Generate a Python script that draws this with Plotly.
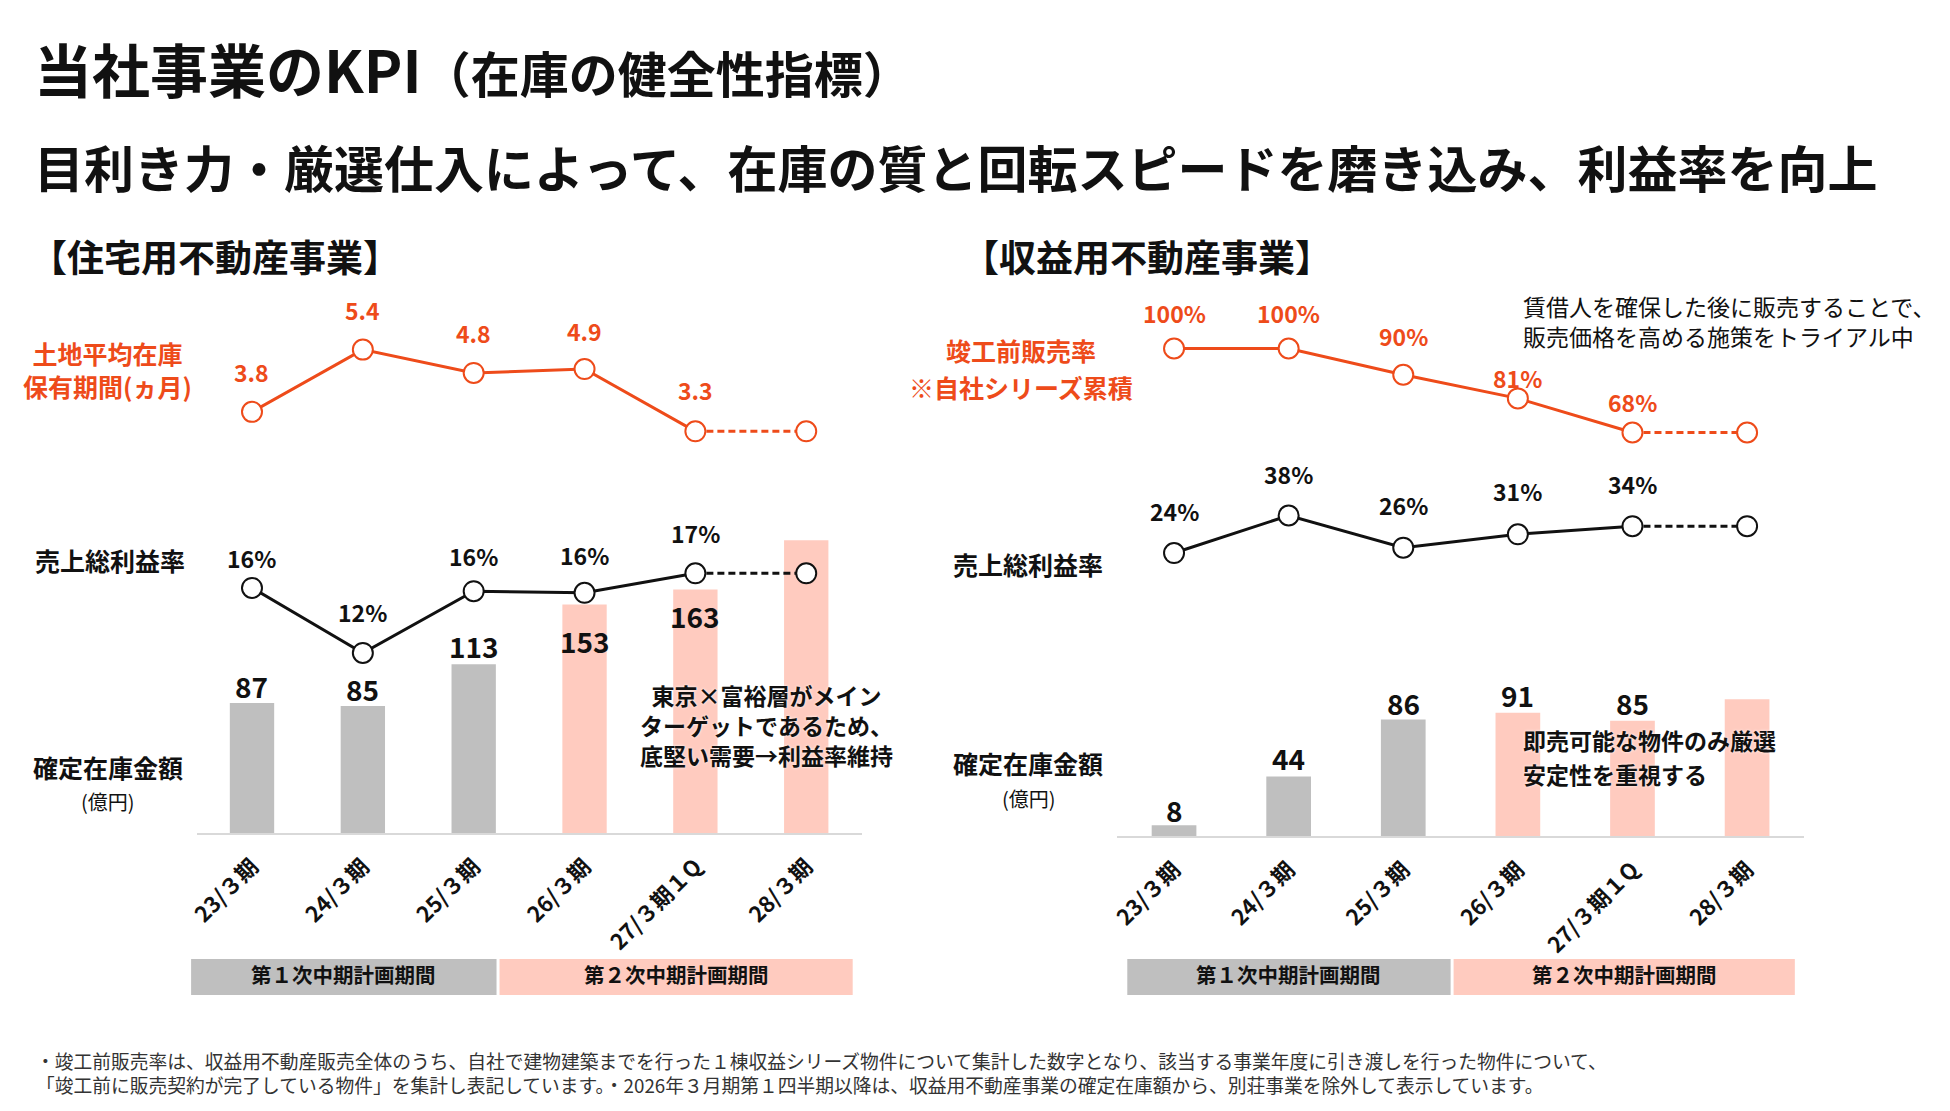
import plotly.graph_objects as go

W, H = 1950, 1111
FONT = "Noto Sans CJK JP"
ORANGE = "#EE4B1A"
GRAY = "#BFBFBF"
PINK = "#FFCBBF"
BLACK = "#111111"

# ---------------- data ----------------
categories = ["23/３期", "24/３期", "25/３期", "26/３期", "27/３期１Q", "28/３期"]
plan_period = [1, 1, 1, 2, 2, 2]

# 住宅用不動産事業
res_inventory = [87, 85, 113, 153, 163, 196]          # 確定在庫金額(億円)
res_inventory_labels = ["87", "85", "113", "153", "163", ""]
res_margin = [16.2, 12.2, 16.0, 15.9, 17.1, 17.1]     # 売上総利益率(%)
res_margin_labels = ["16%", "12%", "16%", "16%", "17%", ""]
res_land = [3.8, 5.4, 4.8, 4.9, 3.3, 3.3]             # 土地平均在庫保有期間(ヵ月)
res_land_labels = ["3.8", "5.4", "4.8", "4.9", "3.3", ""]

# 収益用不動産事業
inc_inventory = [8, 44, 86, 91, 85, 101]              # 確定在庫金額(億円)
inc_inventory_labels = ["8", "44", "86", "91", "85", ""]
inc_margin = [24, 38, 26, 31, 34, 34]                 # 売上総利益率(%)
inc_margin_labels = ["24%", "38%", "26%", "31%", "34%", ""]
inc_presale = [100, 100, 90, 81, 68, 68]              # 竣工前販売率(%)
inc_presale_labels = ["100%", "100%", "90%", "81%", "68%", ""]

band_labels = ["第１次中期計画期間", "第２次中期計画期間"]

# ---------------- style (label offsets in px) ----------------
res_inv_shift = [17, 17, 18, -37, -27, 0]
res_mar_shift = [30, 41, 35, 38, 40, 0]
res_land_shift = [40, 40, 40, 38, 41, 0]
inc_inv_shift = [15, 18, 16, 18, 18, 0]
inc_mar_shift = [42, 42, 43, 43, 42, 0]
inc_pre_shift = [36, 36, 39, 20, 31, 0]

OX, OY = 16, 9   # page offset compensation


def px(x):
    return (x - OX) / W


def py(y):
    return 1 - (y - OY) / H


bar_colors = [GRAY if p == 1 else PINK for p in plan_period]

fig = go.Figure()


def add_line(xa, ya, values, color):
    fig.add_trace(go.Scatter(x=categories[4:], y=values[4:], xaxis=xa, yaxis=ya,
                             mode="lines", line=dict(color=color, width=3, dash="7px,4px"),
                             hoverinfo="skip"))
    fig.add_trace(go.Scatter(x=categories[:5], y=values[:5], xaxis=xa, yaxis=ya,
                             mode="lines", line=dict(color=color, width=3),
                             hoverinfo="skip"))
    fig.add_trace(go.Scatter(x=categories, y=values, xaxis=xa, yaxis=ya,
                             mode="markers",
                             marker=dict(size=20, color="white", line=dict(color=color, width=2)),
                             hoverinfo="skip"))


# left panel
fig.add_trace(go.Bar(x=categories, y=res_inventory, xaxis="x", yaxis="y",
                     marker=dict(color=bar_colors, line=dict(width=0)), width=0.4,
                     hoverinfo="skip"))
add_line("x", "y2", res_margin, BLACK)
add_line("x", "y3", res_land, ORANGE)

# right panel
fig.add_trace(go.Bar(x=categories, y=inc_inventory, xaxis="x2", yaxis="y4",
                     marker=dict(color=bar_colors, line=dict(width=0)), width=0.39,
                     hoverinfo="skip"))
add_line("x2", "y5", inc_margin, BLACK)
add_line("x2", "y6", inc_presale, ORANGE)

annotations = []


def value_labels(xref, yref, values, labels, shifts, size, color, weight):
    for c, v, t, s in zip(categories, values, labels, shifts):
        if not t:
            continue
        annotations.append(dict(x=c, y=v, xref=xref, yref=yref, text=t, showarrow=False,
                                yanchor="middle", xanchor="center", yshift=s,
                                font=dict(size=size, color=color, family=FONT, weight=weight)))


value_labels("x", "y", res_inventory, res_inventory_labels, res_inv_shift, 28, BLACK, 700)
value_labels("x", "y2", res_margin, res_margin_labels, res_mar_shift, 23, BLACK, 700)
value_labels("x", "y3", res_land, res_land_labels, res_land_shift, 23, ORANGE, 700)
value_labels("x2", "y4", inc_inventory, inc_inventory_labels, inc_inv_shift, 28, BLACK, 700)
value_labels("x2", "y5", inc_margin, inc_margin_labels, inc_mar_shift, 23, BLACK, 700)
value_labels("x2", "y6", inc_presale, inc_presale_labels, inc_pre_shift, 23, ORANGE, 700)


def text(x, y, t, size, color=BLACK, weight=700, xanchor="center", shadow=None):
    f = dict(size=size, color=color, family=FONT, weight=weight)
    if shadow:
        f["shadow"] = shadow
    annotations.append(dict(x=px(x), y=py(y - 3), xref="paper", yref="paper", text=t,
                            showarrow=False, xanchor=xanchor, yanchor="middle",
                            align=xanchor if xanchor != "center" else "center", font=f))


# titles
text(30, 71.5, "当社事業のKPI<span style='font-size:49px'>（在庫の健全性指標）</span>", 58, xanchor="left")
text(30, 170, "目利き力・厳選仕入によって、在庫の質と回転スピードを磨き込み、利益率を向上", 50, xanchor="left")
text(26, 260, "【住宅用不動産事業】", 37, xanchor="left")
text(963, 260, "【収益用不動産事業】", 37, xanchor="left")

# row labels (left)
text(106, 373.5, "土地平均在庫<br>保有期間(ヵ月)", 25, ORANGE)
text(108, 564, "売上総利益率", 25)
text(106, 771, "確定在庫金額", 25)
text(106, 805, "(億円)", 20, weight=400)
# row labels (right)
text(1024, 354, "竣工前販売率", 25, ORANGE)
text(1024, 391, "※自社シリーズ累積", 25, ORANGE)
text(1031, 568, "売上総利益率", 25)
text(1031, 767, "確定在庫金額", 25)
text(1032, 802, "(億円)", 20, weight=400)

# comments
halo = "0px 0px 3px white"
text(768, 729, "東京×富裕層がメイン<br>ターゲットであるため、<br>底堅い需要→利益率維持", 23, shadow=halo)
text(1527, 324.5, "賃借人を確保した後に販売することで、<br>販売価格を高める施策をトライアル中", 23,
     xanchor="left", weight=400)
text(1527, 744, "即売可能な物件のみ厳選", 23, xanchor="left", shadow=halo)
text(1527, 778, "安定性を重視する", 23, xanchor="left", shadow=halo)

# plan period bands
shapes = []
bands = [
    (190, 497, GRAY, band_labels[0]),
    (500, 855, PINK, band_labels[1]),
    (1131, 1456, GRAY, band_labels[0]),
    (1459, 1802, PINK, band_labels[1]),
]
for x0, x1, col, lab in bands:
    shapes.append(dict(type="rect", xref="paper", yref="paper", x0=px(x0), x1=px(x1),
                       y0=py(996), y1=py(960), fillcolor=col, line=dict(width=0), layer="below"))
    text((x0 + x1) / 2, 978, lab, 20.5, weight=700)

# footnotes
text(32, 1076.5,
     "・竣工前販売率は、収益用不動産販売全体のうち、自社で建物建築までを行った１棟収益シリーズ物件について集計した数字となり、該当する事業年度に引き渡しを行った物件について、"
     "<br>「竣工前に販売契約が完了している物件」を集計し表記しています。・2026年３月期第１四半期以降は、収益用不動産事業の確定在庫額から、別荘事業を除外して表示しています。",
     18.75, color="#333333", weight=400, xanchor="left")

xaxis_common = dict(type="category", range=[-0.5, 5.5], showgrid=False, zeroline=False,
                    showline=True, linecolor="#D9D9D9", linewidth=2, ticks="",
                    tickangle=-45, ticklabelstandoff=10,
                    tickfont=dict(size=22, color=BLACK, family=FONT, weight=700),
                    fixedrange=True)
yhidden = dict(visible=False, showgrid=False, zeroline=False, fixedrange=True)

y_left = [py(834), py(300)]
y_right = [py(837), py(300)]

fig.update_layout(
    width=W, height=H,
    margin=dict(l=0, r=0, t=0, b=0),
    paper_bgcolor="white", plot_bgcolor="white",
    showlegend=False, hovermode=False,
    font=dict(family=FONT, color=BLACK),
    xaxis=dict(domain=[px(195.5), px(864)], anchor="y", **xaxis_common),
    xaxis2=dict(domain=[px(1120.4), px(1811.6)], anchor="y4", **xaxis_common),
    yaxis=dict(domain=y_left, range=[0, 357.4], anchor="x", **yhidden),
    yaxis2=dict(range=[1.12, 33.98], overlaying="y", anchor="x", **yhidden),
    yaxis3=dict(range=[-7.02, 6.70], overlaying="y", anchor="x", **yhidden),
    yaxis4=dict(domain=y_right, range=[0, 396.3], anchor="x2", **yhidden),
    yaxis5=dict(range=[-81.6, 118.8], overlaying="y4", anchor="x2", **yhidden),
    yaxis6=dict(range=[-85.7, 118.86], overlaying="y4", anchor="x2", **yhidden),
    annotations=annotations,
    shapes=shapes,
)

fig.write_html("out.html", config={"displayModeBar": False})
